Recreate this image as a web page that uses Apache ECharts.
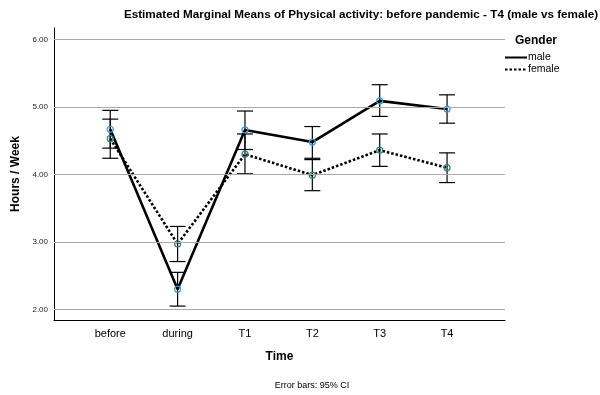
<!DOCTYPE html>
<html><head><meta charset="utf-8">
<script src="https://cdn.jsdelivr.net/npm/echarts@6/dist/echarts.min.js"></script>
<style>html,body{margin:0;padding:0;background:#fff}#c{width:600px;height:395px}</style>
</head><body><div id="c"></div>
<script>
const categories = ['before', 'during', 'T1', 'T2', 'T3', 'T4'];
const yTicks = [2, 3, 4, 5, 6];
const maleMean  = [4.67, 2.30, 4.66, 4.48, 5.09, 4.97];
const maleLow   = [4.39, 2.05, 4.37, 4.24, 4.86, 4.76];
const maleHigh  = [4.95, 2.55, 4.94, 4.71, 5.33, 5.18];
const femaleMean = [4.53, 2.97, 4.30, 3.99, 4.36, 4.10];
const femaleLow  = [4.24, 2.71, 4.01, 3.76, 4.12, 3.88];
const femaleHigh = [4.82, 3.23, 4.60, 4.22, 4.60, 4.32];

const font = 'Liberation Sans, Arial, sans-serif';
const chart = echarts.init(document.getElementById('c'), null, {renderer: 'canvas'});

function pts(arr){ return arr.map((v,i)=>[i,v]); }
function errData(lo, hi){ return lo.map((v,i)=>[i, v, hi[i]]); }
function errRender(params, api){
  const x = api.value(0);
  const lo = api.coord([x, api.value(1)]);
  const hi = api.coord([x, api.value(2)]);
  const hw = 8;
  const st = {stroke:'#000', lineWidth:1.2};
  return {type:'group', children:[
    {type:'line', shape:{x1:lo[0], y1:lo[1], x2:hi[0], y2:hi[1]}, style:st},
    {type:'line', shape:{x1:lo[0]-hw, y1:lo[1], x2:lo[0]+hw, y2:lo[1]}, style:st},
    {type:'line', shape:{x1:hi[0]-hw, y1:hi[1], x2:hi[0]+hw, y2:hi[1]}, style:st}
  ]};
}

chart.setOption({
  animation: false,
  backgroundColor: '#fff',
  title: [
    {text: 'Estimated Marginal Means of Physical activity: before pandemic - T4 (male vs female)',
     left: 356, top: 4, textAlign: 'center',
     textStyle: {fontFamily: font, fontSize: 11.7, fontWeight: 'bold', color: '#000'}},
    {text: 'Gender', left: 510, top: 30,
     textStyle: {fontFamily: font, fontSize: 12, fontWeight: 'bold', color: '#000'}},
    {text: 'Error bars: 95% CI', left: 307, top: 376, textAlign: 'center',
     textStyle: {fontFamily: font, fontSize: 9, fontWeight: 'normal', color: '#000'}}
  ],
  legend: {
    orient: 'vertical', left: 499, top: 47, itemGap: 1,
    itemWidth: 22, itemHeight: 10,
    data: ['male', 'female'],
    itemStyle: {opacity: 0},
    textStyle: {fontFamily: font, fontSize: 10.5, color: '#000', padding: [0,0,0,-4]}
  },
  grid: {left: 54, right: 95, top: 28, bottom: 75, containLabel: false},
  xAxis: {
    type: 'value', min: -0.835, max: 5.86,
    name: 'Time', nameLocation: 'middle', nameGap: 31,
    nameTextStyle: {fontFamily: font, fontSize: 12, fontWeight: 'bold', color: '#000'},
    axisLine: {show: true, onZero: false, lineStyle: {color: '#000', width: 1}},
    axisTick: {show: false},
    splitLine: {show: false},
    axisLabel: {customValues: [0,1,2,3,4,5], formatter: v => categories[Math.round(v)],
      fontFamily: font, fontSize: 11, color: '#000', margin: 8}
  },
  yAxis: {
    type: 'value', min: 1.844, max: 6.17,
    name: 'Hours / Week', nameLocation: 'middle', nameGap: 32, nameRotate: 90,
    nameTextStyle: {fontFamily: font, fontSize: 12, fontWeight: 'bold', color: '#000'},
    axisLine: {show: true, onZero: false, lineStyle: {color: '#000', width: 1}},
    axisTick: {show: false},
    splitLine: {show: false},
    axisLabel: {customValues: yTicks, formatter: v => v.toFixed(2),
      fontFamily: font, fontSize: 8, color: '#222', margin: 6}
  },
  series: [
    {type: 'line', name: 'grid', data: [], silent: true, z: 0,
     markLine: {silent: true, symbol: 'none', animation: false,
       label: {show: false},
       lineStyle: {color: '#a9a9a9', width: 1, type: 'solid'},
       emphasis: {disabled: true},
       data: yTicks.map(v => ({yAxis: v}))}},
    {type: 'custom', name: 'maleErr', renderItem: errRender, data: errData(maleLow, maleHigh), z: 3, silent: true},
    {type: 'custom', name: 'femaleErr', renderItem: errRender, data: errData(femaleLow, femaleHigh), z: 3, silent: true},
    {type: 'line', name: 'male', data: pts(maleMean), z: 4,
     lineStyle: {color: '#000', width: 2.6, type: 'solid'},
     symbol: 'circle', symbolSize: 6,
     itemStyle: {color: 'rgba(255,255,255,0)', borderColor: '#3d9ad6', borderWidth: 1.2}},
    {type: 'line', name: 'female', data: pts(femaleMean), z: 4,
     lineStyle: {color: '#000', width: 2.6, type: [2.5, 2]},
     symbol: 'circle', symbolSize: 6,
     itemStyle: {color: 'rgba(255,255,255,0)', borderColor: '#2f7f86', borderWidth: 1.2}}
  ]
});
</script></body></html>
